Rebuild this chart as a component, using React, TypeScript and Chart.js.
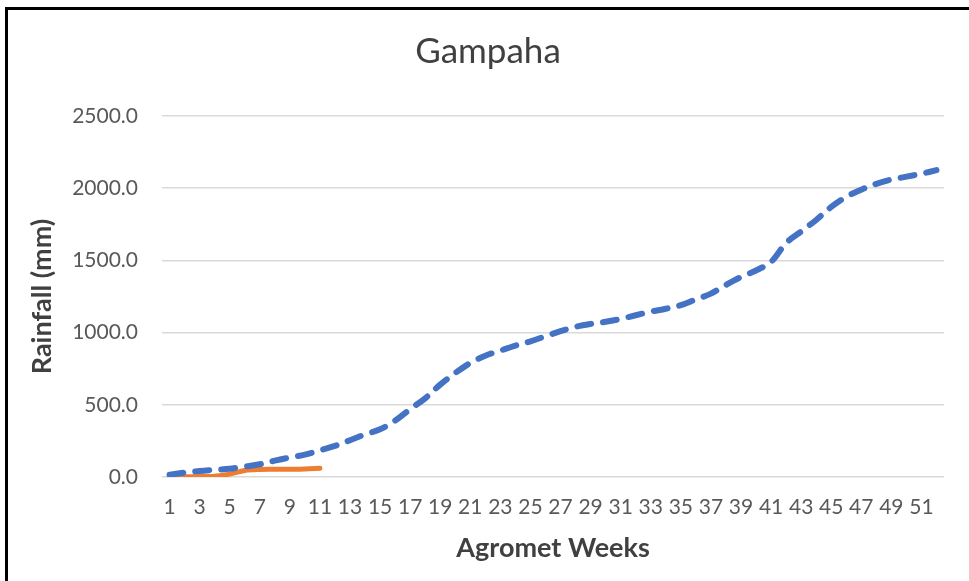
import React, { useEffect, useRef } from "react";
import { Chart, registerables } from "chart.js";

Chart.register(...registerables);

const weeks: string[] = Array.from({ length: 52 }, (_, i) => String(i + 1));

const longTermCumulative: number[] = [
  15, 30, 42, 50, 57, 72, 88, 113, 135, 155,
  185, 215, 255, 295, 330, 390, 470, 545, 640, 720,
  790, 840, 875, 910, 940, 975, 1010, 1040, 1060, 1075,
  1095, 1120, 1145, 1165, 1190, 1230, 1270, 1330, 1385, 1430,
  1490, 1620, 1700, 1780, 1870, 1940, 1990, 2030, 2060, 2080,
  2100, 2125,
];

const currentCumulative: number[] = [0, 2, 3, 5, 20, 45, 52, 53, 54, 56, 60];

const yTicks: number[] = [0, 500, 1000, 1500, 2000, 2500];

const FONT = "Lato";
const TEXT = "#595959";
const TITLE_TEXT = "#404040";

export default function App() {
  const ref = useRef<HTMLCanvasElement | null>(null);

  useEffect(() => {
    document.body.style.margin = "0";
    document.body.style.overflow = "hidden";
    const ctx = ref.current!.getContext("2d")!;
    const chart = new Chart(ctx, {
      type: "line",
      data: {
        labels: weeks,
        datasets: [
          {
            label: "Long term",
            data: longTermCumulative,
            borderColor: "#4472C4",
            backgroundColor: "#4472C4",
            borderWidth: 6,
            borderDash: [14, 12],
            borderCapStyle: "round",
            pointRadius: 0,
            tension: 0.35,
            fill: false,
          },
          {
            label: "Current",
            data: currentCumulative,
            borderColor: "#ED7D31",
            backgroundColor: "#ED7D31",
            borderWidth: 5,
            borderCapStyle: "round",
            pointRadius: 0,
            tension: 0.35,
            fill: false,
          },
        ],
      },
      options: {
        responsive: false,
        animation: false,
        layout: { padding: { left: 32, right: 25, top: 0, bottom: 0 } },
        plugins: {
          legend: { display: false },
          tooltip: { enabled: false },
          title: {
            display: true,
            text: "Gampaha",
            color: TITLE_TEXT,
            font: { family: FONT, size: 35, weight: "normal", lineHeight: 1.2 },
            padding: { top: 31, bottom: 43 },
          },
        },
        scales: {
          x: {
            type: "category",
            offset: true,
            grid: { display: false, drawTicks: false },
            border: { display: false },
            ticks: {
              autoSkip: false,
              maxRotation: 0,
              minRotation: 0,
              padding: 18,
              color: TEXT,
              font: { family: FONT, size: 21 },
              callback: (_v: any, i: number) => (i % 2 === 0 ? weeks[i] : ""),
            },
            title: {
              display: true,
              text: "Agromet Weeks",
              color: TITLE_TEXT,
              font: { family: FONT, size: 27, weight: "bold", lineHeight: 1.2 },
              padding: { top: 0, bottom: 17 },
            },
            afterFit: (s: any) => {
              s.height = 104;
            },
          },
          y: {
            min: 0,
            max: 2500,
            afterBuildTicks: (s: any) => {
              s.ticks = yTicks.map((v) => ({ value: v }));
            },
            grid: { color: "#d9d9d9", lineWidth: 1.5, drawTicks: false },
            border: { display: false },
            ticks: {
              padding: 24,
              color: TEXT,
              font: { family: FONT, size: 21 },
              callback: (v: any) => Number(v).toFixed(1),
            },
            title: {
              display: true,
              text: "Rainfall (mm)",
              color: TITLE_TEXT,
              font: { family: FONT, size: 27, weight: "bold", lineHeight: 0.6 },
              padding: { top: 2, bottom: 0 },
            },
            afterFit: (s: any) => {
              s.width = 130;
            },
          },
        },
      },
    });
    return () => chart.destroy();
  }, []);

  return (
    <div style={{ position: "fixed", left: 0, top: 0, width: 969, height: 581, overflow: "hidden", background: "#fff" }}>
      <canvas ref={ref} width={969} height={581} style={{ position: "absolute", left: 0, top: 0 }} />
      <div
        style={{
          position: "absolute",
          left: 5,
          top: 7,
          width: 2000,
          height: 2000,
          borderLeft: "3px solid #000",
          borderTop: "3px solid #000",
          pointerEvents: "none",
        }}
      />
    </div>
  );
}
